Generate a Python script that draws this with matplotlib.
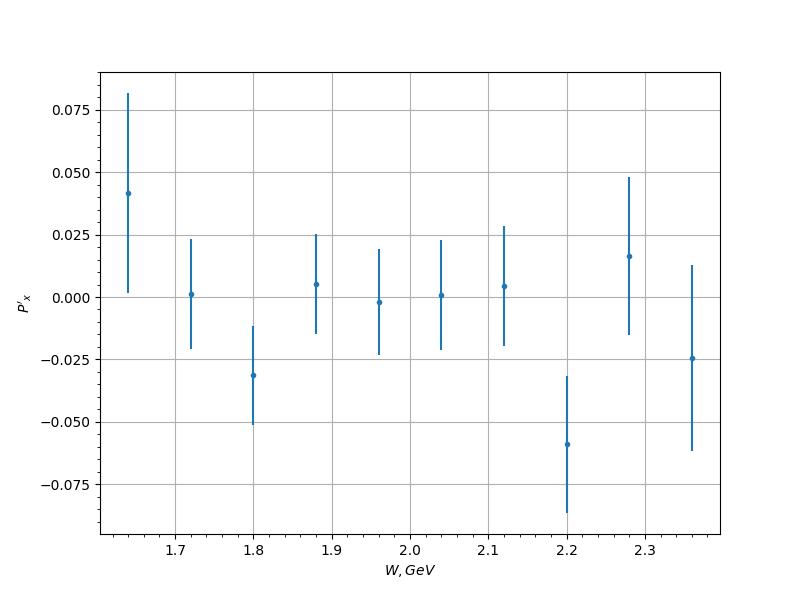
import numpy as np
import matplotlib
matplotlib.use("Agg")
import matplotlib.pyplot as plt

# Data
W = [1.64, 1.72, 1.80, 1.88, 1.96, 2.04, 2.12, 2.20, 2.28, 2.36]
Px = [0.0417, 0.0012, -0.0313, 0.0052, -0.0020, 0.0008, 0.0044, -0.0590, 0.0164, -0.0245]
Px_err = [0.0400, 0.0221, 0.0198, 0.0200, 0.0213, 0.0222, 0.0241, 0.0275, 0.0318, 0.0373]

fig, ax = plt.subplots(figsize=(8, 6), dpi=100)
ax.errorbar(W, Px, yerr=Px_err, fmt='.')
ax.set_xlabel(r"$W, GeV$")
ax.set_ylabel(r"$P'_x$")
ax.minorticks_on()
ax.grid(True, which='major')

fig.savefig("out.png")
